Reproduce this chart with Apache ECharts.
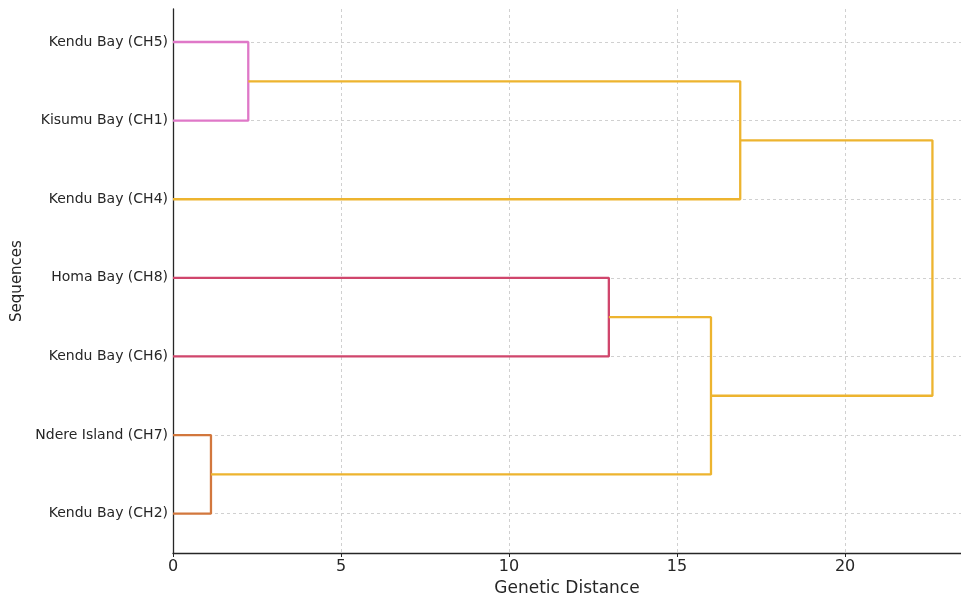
<!DOCTYPE html>
<html>
<head>
<meta charset="utf-8">
<script src="https://cdn.jsdelivr.net/npm/echarts@6/dist/echarts.min.js"></script>
<style>
  html, body { margin: 0; padding: 0; background: #fff; }
  #chart { width: 961px; height: 602px; }
</style>
</head>
<body>
<div id="chart"></div>
<script>
// Leaves, listed from bottom to top
const leafLabels = ['Kendu Bay (CH2)', 'Ndere Island (CH7)', 'Kendu Bay (CH6)', 'Homa Bay (CH8)', 'Kendu Bay (CH4)', 'Kisumu Bay (CH1)', 'Kendu Bay (CH5)'];
// Merges (scipy linkage style): indices 0-6 are leaves, 7+ are clusters in order
const mergeLeft   = [0, 5, 2, 7, 4, 10];
const mergeRight  = [1, 6, 3, 9, 8, 11];
const mergeHeight = [1.13, 2.24, 12.97, 16.01, 16.88, 22.6];
const mergeColor  = ['#d2773d', '#df78c8', '#d0466c', '#edb42f', '#edb42f', '#edb42f'];
const xTicks = [0, 5, 10, 15, 20];

const nodeY = leafLabels.map((_, i) => 5 + 10 * i);
const nodeH = leafLabels.map(() => 0);
const series = [];
mergeLeft.forEach((a, k) => {
  const b = mergeRight[k], h = mergeHeight[k];
  series.push({
    type: 'line',
    data: [[nodeH[a], nodeY[a]], [h, nodeY[a]], [h, nodeY[b]], [nodeH[b], nodeY[b]]],
    showSymbol: false,
    symbol: 'none',
    silent: true,
    lineStyle: { color: mergeColor[k], width: 2.3 },
    z: 10
  });
  nodeY.push((nodeY[a] + nodeY[b]) / 2);
  nodeH.push(h);
});
// horizontal dashed grid lines at leaf positions
series.push({
  type: 'line',
  data: [],
  z: 1,
  markLine: {
    silent: true,
    z: 1,
    symbol: 'none',
    label: { show: false },
    lineStyle: { color: '#d0d0d0', type: [3, 3], width: 1 },
    data: leafLabels.map((_, i) => ({ yAxis: 5 + 10 * i }))
  }
});

const chart = echarts.init(document.getElementById('chart'), null, { renderer: 'canvas' });
chart.setOption({
  animation: false,
  backgroundColor: '#fff',
  grid: { left: 173, right: 0, top: 9, bottom: 45, containLabel: false },
  xAxis: {
    type: 'value',
    min: 0,
    max: 23.45,
    interval: 5,
    name: 'Genetic Distance',
    nameLocation: 'middle',
    nameGap: 27,
    nameTextStyle: { fontFamily: 'DejaVu Sans', fontSize: 17, color: '#262626' },
    axisLine: { show: true, lineStyle: { color: '#262626', width: 1.3 } },
    axisTick: { show: true, length: 4, lineStyle: { color: '#262626' }, customValues: xTicks },
    axisLabel: {
      fontFamily: 'DejaVu Sans', fontSize: 16, color: '#262626', margin: 6,
      customValues: xTicks
    },
    splitLine: { show: true, lineStyle: { color: '#d0d0d0', type: [3, 3], width: 1 } }
  },
  yAxis: {
    type: 'value',
    min: 0,
    max: 69.2,
    interval: 5,
    name: 'Sequences',
    nameLocation: 'middle',
    nameGap: 146,
    nameTextStyle: { fontFamily: 'DejaVu Sans', fontSize: 15, color: '#262626' },
    axisLine: { show: true, lineStyle: { color: '#262626', width: 1.3 } },
    axisTick: { show: false },
    axisLabel: {
      fontFamily: 'DejaVu Sans', fontSize: 14, color: '#262626', margin: 5,
      formatter: v => {
        const i = Math.round((v - 5) / 10);
        return (Math.abs(v - (5 + 10 * i)) < 1e-6 && i >= 0 && i < leafLabels.length) ? leafLabels[i] : '';
      }
    },
    splitLine: { show: false }
  },
  series: series
});
</script>
</body>
</html>
